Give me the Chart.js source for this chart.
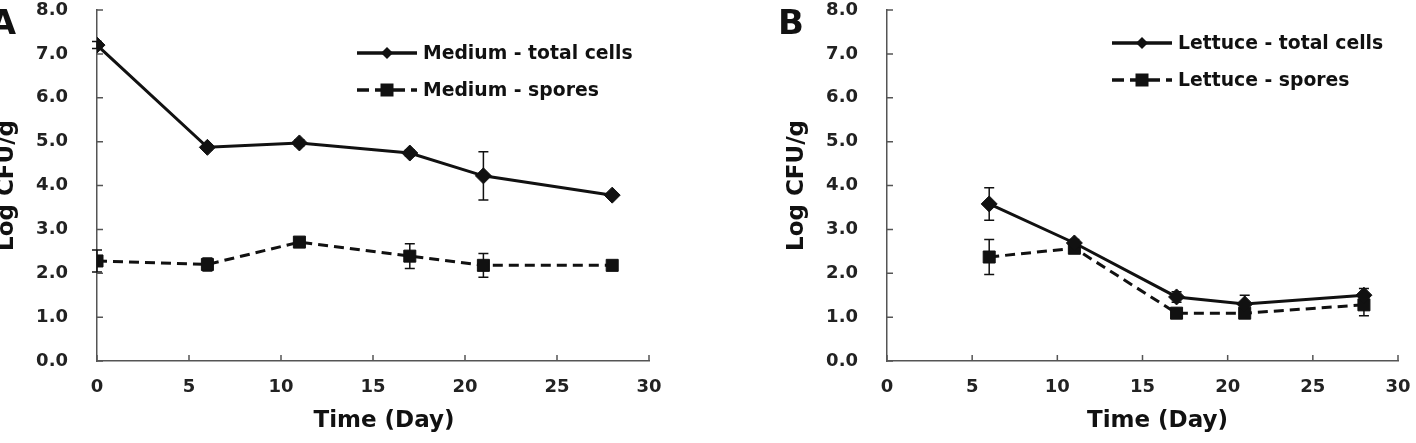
<!DOCTYPE html>
<html>
<head>
<meta charset="utf-8">
<title>Log CFU/g over time</title>
<script src="https://cdn.jsdelivr.net/npm/chart.js"></script>
<style>
  html, body { margin: 0; padding: 0; background: #fff; }
  body { width: 1416px; height: 443px; position: relative; overflow: hidden; }
  .panel { position: absolute; top: 0; }
</style>
</head>
<body>
<div class="panel" style="left:0px"><canvas id="chartA" width="708" height="443"></canvas></div>
<div class="panel" style="left:760px"><canvas id="chartB" width="656" height="443"></canvas></div>
<script>
// data (Log CFU/g)
const daysMedium = [0, 6, 11, 17, 21, 28];
const mediumTotal = [7.20, 4.87, 4.97, 4.74, 4.22, 3.78];
const mediumTotalErr = [0.08, 0.06, 0.07, 0.07, 0.55, 0.05];
const mediumSpores = [2.28, 2.20, 2.71, 2.39, 2.18, 2.18];
const mediumSporesErr = [0.25, 0.15, 0.10, 0.28, 0.27, 0.08];

const daysLettuce = [6, 11, 17, 21, 28];
const lettuceTotal = [3.58, 2.69, 1.46, 1.30, 1.50];
const lettuceTotalErr = [0.37, 0.08, 0.12, 0.20, 0.15];
const lettuceSpores = [2.37, 2.57, 1.09, 1.09, 1.28];
const lettuceSporesErr = [0.40, 0.06, 0.10, 0.10, 0.25];

const FONT = '"DejaVu Sans", "Liberation Sans", sans-serif';
const INK = '#111';
const AXIS = '#555';

function points(days, vals) {
    return days.map((d, i) => ({ x: d, y: vals[i] }));
}

function totalSeries(label, days, vals) {
    return {
        label: label,
        data: points(days, vals),
        borderColor: INK,
        backgroundColor: INK,
        borderWidth: 3,
        pointStyle: 'rectRot',
        pointRadius: 8,
        pointBackgroundColor: INK,
        pointBorderColor: INK,
        pointBorderWidth: 1,
        tension: 0
    };
}

function sporeSeries(label, days, vals) {
    return {
        label: label,
        data: points(days, vals),
        borderColor: INK,
        backgroundColor: INK,
        borderWidth: 3,
        borderDash: [10, 6],
        pointStyle: 'rect',
        pointRadius: 8.5,
        pointBackgroundColor: INK,
        pointBorderColor: INK,
        pointBorderWidth: 1,
        tension: 0
    };
}

function drawMarker(ctx, style, x, y, r) {
    ctx.beginPath();
    if (style === 'rectRot') {
        ctx.moveTo(x - r, y);
        ctx.lineTo(x, y - r);
        ctx.lineTo(x + r, y);
        ctx.lineTo(x, y + r);
        ctx.closePath();
    } else {
        ctx.rect(x - r, y - r, 2 * r, 2 * r);
    }
    ctx.fill();
}

// error bars, inner tick marks, legend, axis title and panel letter
const extras = {
    id: 'extras',
    beforeDatasetsDraw(chart, args, opts) {
        const ctx = chart.ctx;
        const xs = chart.scales.x, ys = chart.scales.y;
        ctx.save();
        ctx.strokeStyle = INK;
        ctx.lineWidth = 1.5;
        chart.data.datasets.forEach((ds, i) => {
            const errs = opts.errors[i];
            ds.data.forEach((p, j) => {
                const px = xs.getPixelForValue(p.x);
                const top = ys.getPixelForValue(p.y + errs[j]);
                const bot = ys.getPixelForValue(p.y - errs[j]);
                ctx.beginPath();
                ctx.moveTo(px, top); ctx.lineTo(px, bot);
                ctx.moveTo(px - 5, top); ctx.lineTo(px + 5, top);
                ctx.moveTo(px - 5, bot); ctx.lineTo(px + 5, bot);
                ctx.stroke();
            });
        });
        ctx.restore();
    },
    afterDraw(chart, args, opts) {
        const ctx = chart.ctx;
        const xs = chart.scales.x, ys = chart.scales.y;
        const area = chart.chartArea;
        ctx.save();

        ctx.strokeStyle = AXIS;
        ctx.lineWidth = 1.5;
        ctx.beginPath();
        xs.ticks.forEach(t => {
            const px = xs.getPixelForValue(t.value);
            ctx.moveTo(px, area.bottom);
            ctx.lineTo(px, area.bottom - 6);
        });
        ys.ticks.forEach(t => {
            const py = ys.getPixelForValue(t.value);
            ctx.moveTo(area.left, py);
            ctx.lineTo(area.left + 6, py);
        });
        ctx.stroke();

        // legend
        ctx.font = 'bold 18.8px ' + FONT;
        ctx.textBaseline = 'middle';
        ctx.textAlign = 'left';
        chart.data.datasets.forEach((ds, i) => {
            const ly = opts.legendY + i * 37;
            const lx = opts.legendX;
            ctx.strokeStyle = INK;
            ctx.fillStyle = INK;
            ctx.lineWidth = 3.5;
            ctx.setLineDash(ds.borderDash ? [12, 6] : []);
            ctx.beginPath();
            ctx.moveTo(lx, ly);
            ctx.lineTo(lx + 60, ly);
            ctx.stroke();
            ctx.setLineDash([]);
            drawMarker(ctx, ds.pointStyle, lx + 30, ly, ds.pointStyle === 'rectRot' ? 6 : 6.5);
            ctx.fillText(ds.label, lx + 66, ly + 1);
        });

        // x axis title
        ctx.fillStyle = INK;
        ctx.font = 'bold 23px ' + FONT;
        ctx.textAlign = 'center';
        ctx.fillText('Time (Day)', (area.left + area.right) / 2 + opts.titleShift, 421);

        // panel letter
        ctx.font = 'bold 34px ' + FONT;
        ctx.textAlign = opts.letterAlign;
        ctx.textBaseline = 'alphabetic';
        ctx.fillText(opts.letter, opts.letterX, 34);
        ctx.restore();
    }
};

function makeOptions(cfg) {
    return {
        responsive: false,
        animation: false,
        layout: { padding: { left: 0, top: 10, right: cfg.rightPad, bottom: 0 } },
        plugins: {
            legend: { display: false },
            tooltip: { enabled: false },
            extras: cfg.extras
        },
        scales: {
            x: {
                type: 'linear',
                min: 0,
                max: 30,
                afterFit: s => {
                    s.height = 82;
                    s.paddingLeft = 0;
                    s.paddingRight = 0;
                },
                grid: { display: false, drawTicks: false },
                border: { display: true, color: AXIS, width: 1.5 },
                ticks: {
                    stepSize: 5,
                    padding: 16,
                    color: '#222',
                    font: { family: FONT, size: 18, weight: 'bold', lineHeight: 1.2 }
                }
            },
            y: {
                min: 0,
                max: 8,
                afterFit: s => {
                    s.width = cfg.yWidth;
                    s.paddingTop = 0;
                    s.paddingBottom = 0;
                },
                grid: { display: false, drawTicks: false },
                border: { display: true, color: AXIS, width: 1.5 },
                ticks: {
                    stepSize: 1,
                    padding: 29,
                    color: '#222',
                    font: { family: FONT, size: 18, weight: 'bold', lineHeight: 1 },
                    callback: v => v.toFixed(1)
                },
                title: {
                    display: true,
                    text: 'Log CFU/g',
                    color: INK,
                    padding: { top: cfg.titlePad, bottom: 0 },
                    font: { family: FONT, size: 23, weight: 'bold', lineHeight: 1 }
                }
            }
        }
    };
}

new Chart(document.getElementById('chartA'), {
    type: 'line',
    data: {
        datasets: [
            totalSeries('Medium - total cells', daysMedium, mediumTotal),
            sporeSeries('Medium - spores', daysMedium, mediumSpores)
        ]
    },
    options: makeOptions({
        rightPad: 59,
        yWidth: 97,
        titlePad: -4.5,
        extras: {
            errors: [mediumTotalErr, mediumSporesErr],
            legendX: 357, legendY: 53,
            titleShift: 11,
            letter: 'A', letterX: 16, letterAlign: 'right'
        }
    }),
    plugins: [extras]
});

new Chart(document.getElementById('chartB'), {
    type: 'line',
    data: {
        datasets: [
            totalSeries('Lettuce - total cells', daysLettuce, lettuceTotal),
            sporeSeries('Lettuce - spores', daysLettuce, lettuceSpores)
        ]
    },
    options: makeOptions({
        rightPad: 18,
        yWidth: 127,
        titlePad: 25.5,
        extras: {
            errors: [lettuceTotalErr, lettuceSporesErr],
            legendX: 352, legendY: 43,
            titleShift: 15,
            letter: 'B', letterX: 18, letterAlign: 'left'
        }
    }),
    plugins: [extras]
});
</script>
</body>
</html>
